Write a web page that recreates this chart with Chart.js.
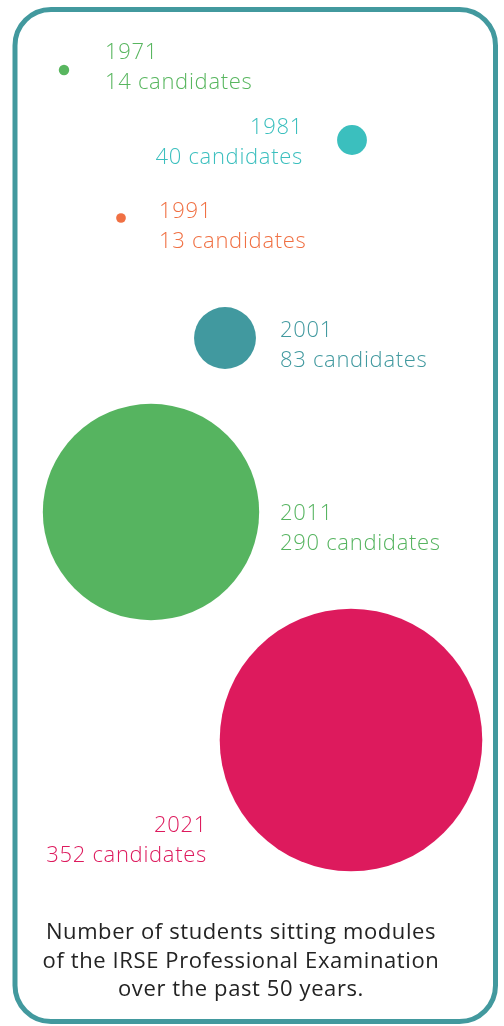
<!DOCTYPE html>
<html>
<head>
<meta charset="utf-8">
<script src="https://cdn.jsdelivr.net/npm/chart.js@4"></script>
<style>
  html, body { margin: 0; padding: 0; background: #ffffff; }
  #wrap { width: 504px; height: 1026px; position: relative; }
</style>
</head>
<body>
<div id="wrap"><canvas id="c" width="504" height="1026"></canvas></div>
<script>
// ---- data ----
const years = [1971, 1981, 1991, 2001, 2011, 2021];
const candidates = [14, 40, 13, 83, 290, 352];
const captionLines = [
  "Number of students sitting modules",
  "of the IRSE Professional Examination",
  "over the past 50 years."
];

// ---- layout (positions in the hidden 504 x 1026 layout space) ----
const bubbleX = [64, 352, 121, 225, 151, 351];
const bubbleY = [70, 140, 218, 338, 512, 740];
const labelX  = [105, 303, 159, 280, 280, 207];
const labelY  = [59, 134, 218, 337, 520, 832];
const labelAlign = ["left", "right", "left", "left", "left", "right"];
const radiusPerCandidate = 0.373;

// ---- style ----
const colors = ["#58b65f", "#3bbfbe", "#f07043", "#41999f", "#56b460", "#dd1a5d"];
const borderColor = "#42999e";
const captionColor = "#232323";

const decor = {
  id: "decor",
  beforeDraw(chart) {
    const ctx = chart.ctx;
    ctx.save();
    ctx.fillStyle = "#ffffff";
    ctx.fillRect(0, 0, chart.width, chart.height);
    ctx.strokeStyle = borderColor;
    ctx.lineWidth = 5;
    ctx.beginPath();
    ctx.roundRect(15, 9.5, 480.5, 1012, 36);
    ctx.stroke();
    ctx.restore();
  },
  afterDatasetsDraw(chart) {
    const ctx = chart.ctx;
    const xs = chart.scales.x, ys = chart.scales.y;
    ctx.save();
    ctx.textBaseline = "alphabetic";
    ctx.font = "300 22px 'Open Sans', Lato, sans-serif";
    ctx.letterSpacing = "0.7px";
    years.forEach((yr, i) => {
      const px = xs.getPixelForValue(labelX[i]);
      const py = ys.getPixelForValue(labelY[i]);
      ctx.fillStyle = colors[i];
      ctx.textAlign = labelAlign[i];
      ctx.fillText(String(yr), px, py);
      ctx.fillText(candidates[i] + " candidates", px, py + 29.5);
    });
    ctx.fillStyle = captionColor;
    ctx.textAlign = "center";
    ctx.font = "500 22px 'Open Sans', Lato, sans-serif";
    ctx.letterSpacing = "0.6px";
    captionLines.forEach((t, j) => {
      ctx.fillText(t, 241, 939 + j * 28.5);
    });
    ctx.restore();
  }
};

new Chart(document.getElementById("c"), {
  type: "bubble",
  data: {
    datasets: [{
      data: years.map((y, i) => ({ x: bubbleX[i], y: bubbleY[i], r: candidates[i] * radiusPerCandidate })),
      backgroundColor: colors,
      borderWidth: 0,
      hoverBorderWidth: 0
    }]
  },
  options: {
    responsive: false,
    animation: false,
    layout: { padding: 0, autoPadding: false },
    scales: {
      x: { type: "linear", min: 0, max: 504, display: false },
      y: { type: "linear", min: 0, max: 1026, reverse: true, display: false }
    },
    plugins: { legend: { display: false }, tooltip: { enabled: false } },
    clip: false
  },
  plugins: [decor]
});
</script>
</body>
</html>
